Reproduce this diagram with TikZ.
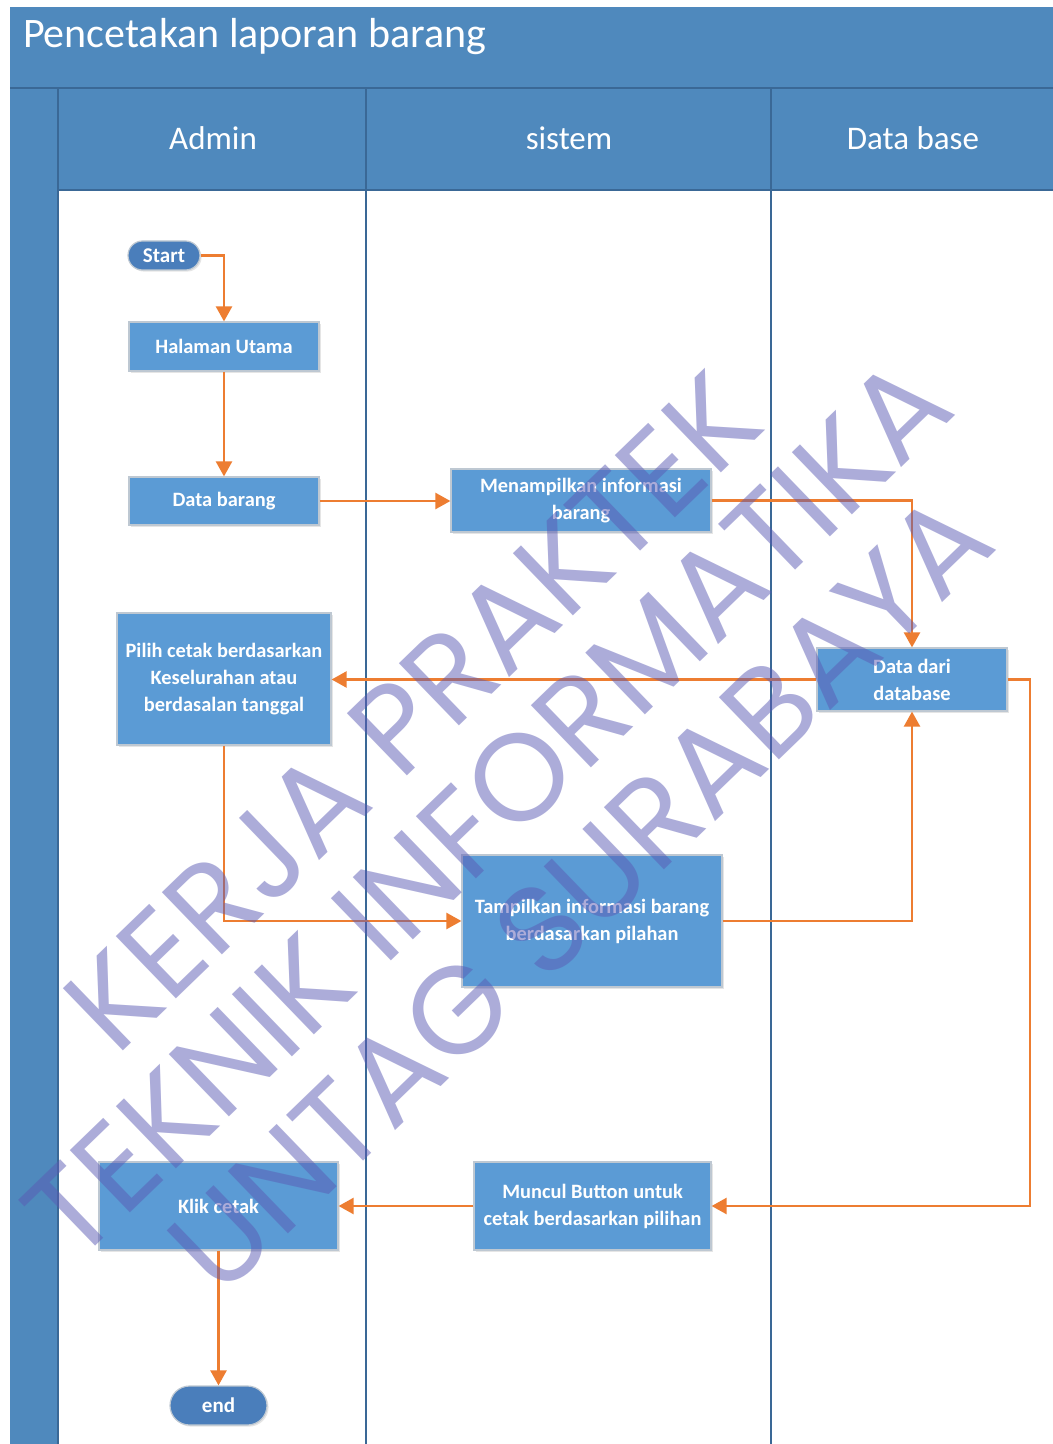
\documentclass[tikz,border=0pt]{standalone}
\usepackage{fontspec}
\setmainfont{Carlito}
\newfontfamily\wmfont{Poppins}
\usetikzlibrary{arrows.meta,shadows}

\definecolor{bandblue}{RGB}{79,137,189}
\definecolor{lanedark}{RGB}{58,104,150}
\definecolor{boxblue}{RGB}{91,155,213}
\definecolor{boxedge}{RGB}{190,200,210}
\definecolor{pillblue}{RGB}{74,126,187}
\definecolor{floworange}{RGB}{237,125,49}
\definecolor{wmcolor}{RGB}{90,90,180}

\tikzset{
  box/.style={draw=boxedge, line width=0.6pt, fill=boxblue, text=white, align=center,
    inner sep=1pt, font=\bfseries\fontsize{10.2}{13.5}\selectfont,
    drop shadow={opacity=0.2, shadow xshift=0.8pt, shadow yshift=-0.8pt}},
  pill/.style={box, fill=pillblue, font=\bfseries\fontsize{10.5}{13}\selectfont},
  flow/.style={draw=floworange, line width=1.2pt, -{Triangle[length=7.5pt,width=8pt]}},
  lane/.style={draw=lanedark, line width=1pt},
  lanetitle/.style={text=white, font=\fontsize{16.5}{20}\selectfont},
  wmark/.style={text=wmcolor, text opacity=0.5, rotate=44, font=\wmfont\fontsize{62}{66}\selectfont}
}

\begin{document}
\begin{tikzpicture}[x=0.5pt, y=-0.5pt]
  \useasboundingbox (0,0) rectangle (1053,1444);
  % swimlane frame
  \fill[bandblue] (10,7) rectangle (1053,1444);
  \fill[white] (58,190) rectangle (1053,1444);
  \draw[lane] (10,88) -- (1053,88);
  \draw[lane] (58,190) -- (1053,190);
  \draw[lane] (58,88) -- (58,1444);
  \draw[lane] (366,88) -- (366,1444);
  \draw[lane] (771,88) -- (771,1444);

  \node[anchor=west, text=white, font=\fontsize{21}{24}\selectfont] (title) at (16,37) {Pencetakan laporan barang};
  \node[lanetitle] (admin) at (213,138) {Admin};
  \node[lanetitle] (sistem) at (569,138) {sistem};
  \node[lanetitle] (dbase) at (913,138) {Data base};

  % steps
  \node[pill, rounded corners=7.25pt, minimum width=36pt, minimum height=14.5pt] (start) at (164,255.5) {Start};
  \node[box, minimum width=95pt, minimum height=24.5pt] (halaman) at (224,346.5) {Halaman Utama};
  \node[box, minimum width=95pt, minimum height=24pt] (databarang) at (224,501) {Data barang};
  \node[box, minimum width=130pt, minimum height=31.5pt] (menampilkan) at (581,500.5) {Menampilkan informasi\\barang};
  \node[box, minimum width=95pt, minimum height=31.5pt] (datadb) at (912,679.5) {Data dari\\database};
  \node[box, minimum width=107pt, minimum height=66pt] (pilih) at (224,679) {Pilih cetak berdasarkan\\Keselurahan atau\\berdasalan tanggal};
  \node[box, minimum width=130pt, minimum height=66pt] (tampilkan) at (592,921) {Tampilkan informasi barang\\berdasarkan pilahan};
  \node[box, minimum width=118.5pt, minimum height=44pt] (muncul) at (592.5,1206) {Muncul Button untuk\\cetak berdasarkan pilihan};
  \node[box, minimum width=119.5pt, minimum height=44pt] (klik) at (218.5,1206) {Klik cetak};
  \node[pill, rounded corners=9.75pt, minimum width=48.5pt, minimum height=19.5pt] (end) at (218.5,1405.5) {end};
  \coordinate (rturn) at (1030,679.5);

  % flow
  \draw[flow] (start.east) -| (halaman.north);
  \draw[flow] (halaman.south) -- (databarang.north);
  \draw[flow] (databarang.east) -- (menampilkan.west |- databarang.east);
  \draw[flow] (menampilkan.east) -| (datadb.north);
  \draw[flow] (datadb.west) -- (pilih.east |- datadb.west);
  \draw[flow] (pilih.south) |- (tampilkan.west);
  \draw[flow] (tampilkan.east) -| (datadb.south);
  \draw[flow] (datadb.east) -- (rturn) |- (muncul.east);
  \draw[flow] (muncul.west) -- (klik.east);
  \draw[flow] (klik.south) -- (end.north);

  % watermark
  \node[wmark] (wm1) at (412,712) {KERJA PRAKTEK};
  \node[wmark] (wm2) at (487,808) {TEKNIK INFORMATIKA};
  \node[wmark] (wm3) at (580,892) {UNTAG SURABAYA};
\end{tikzpicture}
\end{document}
